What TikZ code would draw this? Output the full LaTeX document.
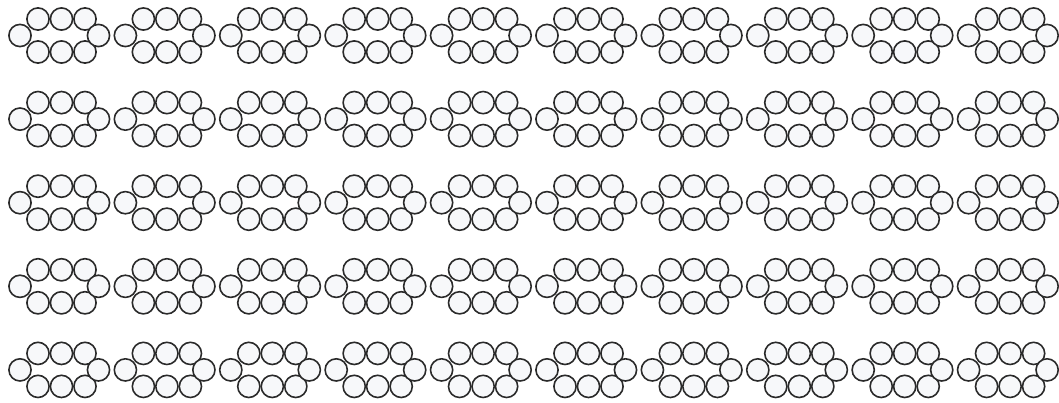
\documentclass[tikz,border=0pt]{standalone}
\definecolor{ringfill}{HTML}{F7F8FA}
\definecolor{ringline}{HTML}{2A2A2A}
\tikzset{
  atom/.style={draw=ringline, fill=ringfill, line width=1.6pt},
  pics/molecule/.style={code={
    \foreach \dx in {18,41.5,65}{
      \path[atom] (\dx,-16.5) circle (11.1);
      \path[atom] (\dx,16.5) circle (11.1);
    }
    \path[atom] (0,0) circle (11.1);
    \path[atom] (78.5,0) circle (11.1);
  }}
}
\begin{document}
\begin{tikzpicture}[x=1pt,y=-1pt]
  \useasboundingbox (0,0) rectangle (1059,403);
  \foreach \r in {0,...,4}{
    \foreach \c in {0,...,9}{
      \pic at ({20+105.4*\c},{35.5+83.6*\r}) {molecule};
    }
  }
\end{tikzpicture}
\end{document}
